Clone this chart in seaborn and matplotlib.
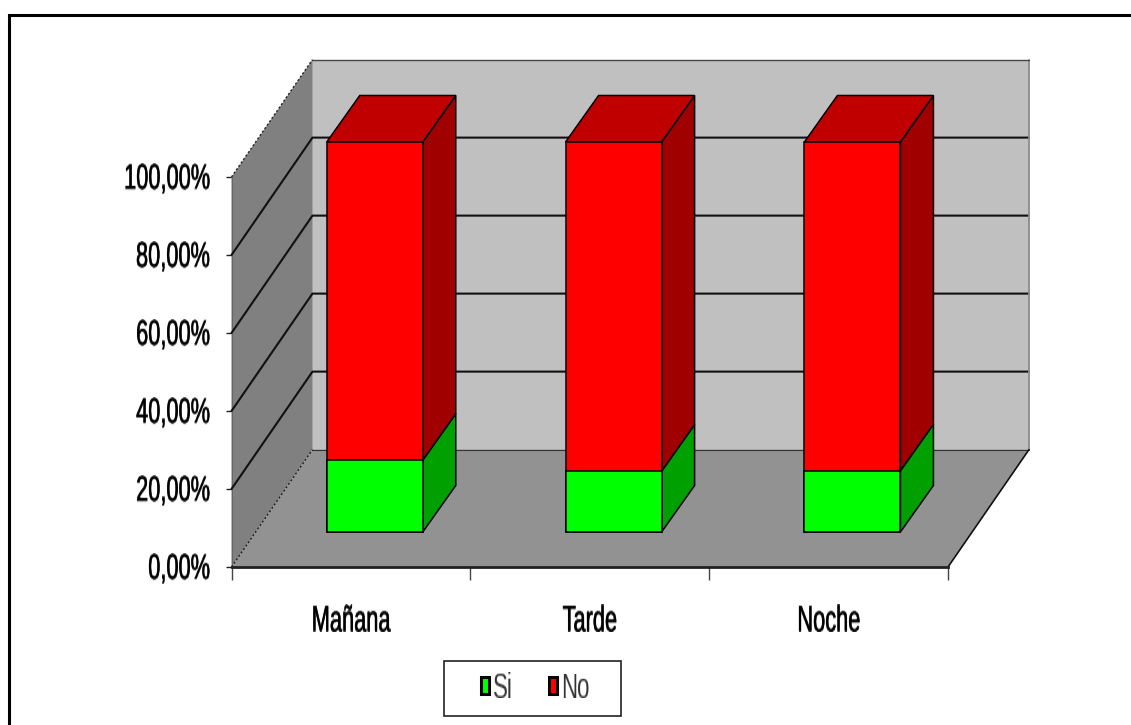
import numpy as np
import pandas as pd
import matplotlib
matplotlib.use("Agg")
import matplotlib.pyplot as plt
import matplotlib.patheffects as pe
import seaborn as sns
from matplotlib.lines import Line2D
from matplotlib.patches import Patch, Polygon, Rectangle
from matplotlib.transforms import Affine2D

categories = ["Mañana", "Tarde", "Noche"]
si_values = [18.4, 15.6, 15.7]
no_values = [81.6, 84.4, 84.3]
y_ticks = [0, 20, 40, 60, 80, 100]
y_labels = ["0,00%", "20,00%", "40,00%", "60,00%", "80,00%", "100,00%"]
legend_labels = ["Si", "No"]

W, H = 1131, 725
sns.set_theme(style="white")
plt.rcParams["font.family"] = ["Liberation Sans Narrow", "Liberation Sans", "DejaVu Sans"]


def stretch(factor):
    def _f(img, dpi):
        h = img.shape[0]
        nh = int(round(h * factor))
        pos = np.linspace(0, h - 1, nh)
        lo = np.floor(pos).astype(int)
        hi = np.minimum(lo + 1, h - 1)
        t = (pos - lo)[:, None, None]
        out = img[lo] * (1 - t) + img[hi] * t
        return out, 0, -(nh - h) // 2
    return _f


fig = plt.figure(figsize=(W / 100, H / 100), dpi=100, facecolor="white")
ax = fig.add_axes([231.5 / W, (H - 567) / H, 716.5 / W, 390 / H])
ax.patch.set_visible(False)

df = pd.DataFrame({"turno": categories, "si": si_values, "no": no_values})
df["total"] = df["si"] + df["no"]

# depth expressed in data units
DX, DY = 0.339, 30.1        # whole floor depth
BX, BY = 0.100, 9.0         # bar front offset
SX, SY = 0.138, 11.9        # bar depth
BW = 0.402
front = Affine2D().translate(BX, BY) + ax.transData

sns.barplot(data=df, x="turno", y="total", color="#ff0000", width=BW, saturation=1,
            edgecolor="black", linewidth=1.1, ax=ax, zorder=6, clip_on=False)
sns.barplot(data=df, x="turno", y="si", color="#00ff00", width=BW, saturation=1,
            edgecolor="black", linewidth=1.1, ax=ax, zorder=7, clip_on=False)
for p in ax.patches:
    p.set_transform(front)
    p.set_clip_on(False)

ax.set_xlim(-0.5, 2.5)
ax.set_ylim(0, 100)
x0, x1 = ax.get_xlim()
top = y_ticks[-1]


def poly(pts, fc, z, ec="none", lw=0):
    ax.add_patch(Polygon(pts, closed=True, facecolor=fc, edgecolor=ec, linewidth=lw,
                         zorder=z, clip_on=False))


# walls and floor
poly([(x0 + DX, 0 + DY), (x1 + DX, 0 + DY), (x1 + DX, top + DY), (x0 + DX, top + DY)], "#c0c0c0", 1)
poly([(x0, 0), (x0 + DX, DY), (x0 + DX, top + DY), (x0, top)], "#808080", 2)
poly([(x0, 0), (x1, 0), (x1 + DX, DY), (x0 + DX, DY)], "#929292", 2)

# gridlines along left wall and back wall
for v in y_ticks[1:-1]:
    ax.plot([x0, x0 + DX, x1 + DX], [v, v + DY, v + DY], color="#111111", lw=1.5, zorder=3, clip_on=False)
ax.plot([x1 + DX, x1 + DX], [top + DY, DY], color="#8a8a8a", lw=1.3, zorder=3, clip_on=False)
ax.plot([x0 + DX, x1 + DX], [top + DY, top + DY], color="#444444", lw=1.0, zorder=3, clip_on=False)
ax.plot([x0 + DX, x1 + DX], [DY, DY], color="#333333", lw=0.8, zorder=3, clip_on=False)
ax.plot([x1, x1 + DX], [0, DY], color="#111111", lw=1.2, zorder=3, clip_on=False)
for v in (0, top):
    ax.plot([x0, x0 + DX], [v, v + DY], color="#222222", lw=1.0, ls=(0, (1.5, 1.5)), zorder=3, clip_on=False)

# bar side and top faces
for i in range(len(categories)):
    l = i - BW / 2 + BX
    r = i + BW / 2 + BX
    s = si_values[i] + BY
    t = si_values[i] + no_values[i] + BY
    b = BY
    poly([(r, b), (r + SX, b + SY), (r + SX, s + SY), (r, s)], "#00a000", 5, "black", 1.1)
    poly([(r, s), (r + SX, s + SY), (r + SX, t + SY), (r, t)], "#a00000", 5, "black", 1.1)
    poly([(l, t), (r, t), (r + SX, t + SY), (l + SX, t + SY)], "#c00000", 5, "black", 1.1)

# axes dressing
for name, sp in ax.spines.items():
    sp.set_visible(name in ("left", "bottom"))
ax.spines["left"].set_color("#666666")
ax.spines["left"].set_linewidth(0.8)
ax.spines["bottom"].set_color("#222222")
ax.spines["bottom"].set_linewidth(2.0)
ax.spines["bottom"].set_zorder(4)

ax.set_xlabel("")
ax.set_ylabel("")
ax.set_yticks(y_ticks)
ax.set_yticklabels(y_labels)
ax.set_xticks([-0.5, 0.5, 1.5, 2.5])
ax.set_xticklabels([])
ax.set_xticks([0, 1, 2], minor=True)
ax.set_xticklabels(categories, minor=True)
ax.tick_params(axis="y", which="major", left=True, length=4.5, width=1.0, color="#222222",
               pad=11, labelsize=15.7, labelcolor="black")
ax.tick_params(axis="x", which="major", bottom=True, length=9, width=1.0, color="#444444")
ax.tick_params(axis="x", which="minor", bottom=False, length=0, pad=30.5, labelsize=15.7, labelcolor="black")

for lab in ax.get_yticklabels() + ax.get_xticklabels(minor=True):
    lab.set_path_effects([pe.withStroke(linewidth=0.35, foreground="black")])
    lab.set_agg_filter(stretch(1.62))

# legend frame, wider than its entries
fig.add_artist(Rectangle((443.5 / W, 1 - 715.5 / H), 177.5 / W, 55 / H, transform=fig.transFigure,
                         facecolor="white", edgecolor="#222222", linewidth=1.2, zorder=8))
leg = fig.legend(
    handles=[Patch(facecolor="#00ff00", edgecolor="black", linewidth=2.2),
             Patch(facecolor="#ff0000", edgecolor="black", linewidth=2.2)],
    labels=legend_labels, ncols=2, loc="center", fontsize=16,
    bbox_to_anchor=(535 / W, 1 - 687.5 / H), frameon=False,
    handlelength=0.36, handleheight=0.85, handletextpad=0.2,
    columnspacing=1.6, borderpad=0, borderaxespad=0)
leg.set_zorder(9)
for t in leg.get_texts():
    t.set_color("#333333")
    t.set_agg_filter(stretch(1.6))

# outer frame, open at right and bottom
fig.add_artist(Line2D([8.5 / W, 8.5 / W, 1], [0, 1 - 14.5 / H, 1 - 14.5 / H], color="black", lw=2.2,
                      solid_joinstyle="miter"))

fig.savefig("out.png", dpi=100)
